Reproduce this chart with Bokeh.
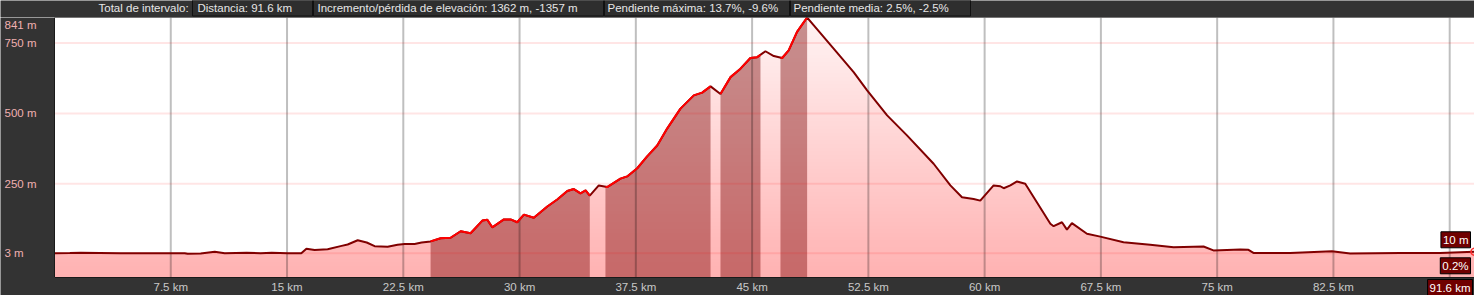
import numpy as np
from bokeh.plotting import figure
from bokeh.models import Range1d, Label
from bokeh.layouts import column
from bokeh.embed import file_html
from bokeh.resources import INLINE
from bokeh.core.properties import value

# ---------------- data ----------------
dist_km = [0, 0.99, 1.7, 2.92, 4.27, 6.21, 8.4, 8.59, 9.43, 10.34, 10.98, 12.4, 13.3, 14.01,
           15.04, 15.92, 16.25, 16.78, 17.62, 18.52, 18.91, 19.56, 20.14, 20.65, 21.49, 22.13,
           22.59, 23.23, 23.68, 24.26, 24.91, 25.55, 26.2, 26.84, 27.6, 27.92, 28.24, 28.99,
           29.42, 29.85, 30.28, 30.92, 31.79, 32.43, 33.08, 33.5, 33.93, 34.26, 34.53, 35.11,
           35.65, 36.51, 36.94, 37.59, 38.23, 38.88, 39.52, 40.38, 41.24, 41.78, 42.32, 42.96,
           43.61, 44.25, 44.89, 45.33, 45.86, 46.4, 46.94, 47.36, 47.9, 48.55, 48.98, 50.26,
           51.55, 52.42, 53.71, 54.99, 56.71, 57.79, 58.54, 59.29, 59.72, 60.58, 61.01, 61.23,
           61.66, 62.09, 62.62, 64.24, 64.45, 64.99, 65.31, 65.63, 66.6, 67.46, 68.96, 70.68,
           72.19, 74.12, 74.76, 76.49, 77.02, 77.34, 79.71, 82.4, 83.58, 86.8, 89.38, 91.6]
elev_m = [3, 4, 5, 4, 3, 3, 3, 1, 2, 8, 3, 5, 3, 5,
          3, 3, 19, 14, 17, 29, 34, 49, 41, 28, 26, 33,
          36, 36, 41, 45, 56, 58, 81, 74, 119, 122, 95, 123,
          123, 113, 140, 129, 169, 194, 224, 231, 216, 226, 208, 244,
          238, 268, 276, 305, 347, 386, 446, 517, 564, 574, 596, 569,
          629, 659, 697, 700, 721, 704, 697, 724, 790, 841, 813, 730,
          647, 582, 493, 422, 321, 244, 202, 196, 190, 244, 241, 234,
          244, 258, 250, 108, 99, 113, 87, 110, 72, 62, 42, 33,
          24, 27, 13, 16, 15, 4, 4, 10, 2, 4, 4, 8]

sel_start_km = [24.26, 35.54, 42.96, 46.83]
sel_end_km = [34.53, 42.32, 45.54, 48.55]

x_ticks = [7.5, 15, 22.5, 30, 37.5, 45, 52.5, 60, 67.5, 75, 82.5, 90]
x_tick_labels = ["7.5 km", "15 km", "22.5 km", "30 km", "37.5 km", "45 km", "52.5 km",
                 "60 km", "67.5 km", "75 km", "82.5 km", "90 km"]
y_ticks = [3, 250, 500, 750]
y_tick_labels = ["3 m", "250 m", "500 m", "750 m"]
y_top_label = "841 m"

header_texts = ["Total de intervalo:", "Distancia: 91.6 km",
                "Incremento/pérdida de elevación: 1362 m, -1357 m",
                "Pendiente máxima: 13.7%, -9.6%", "Pendiente media: 2.5%, -2.5%"]
cursor_elev_label = "10 m"
cursor_grade_label = "0.2%"
cursor_dist_label = "91.6 km"

TOTAL_KM = 91.6
Y_MIN = -83.4
Y_MAX = 841

FONT = "Liberation Sans"
FS = "11.5px"

# layout (pixels)
W = 1474
HEADER_H = 17
MAIN_H = 278
LEFT_PX = 54
BOTTOM_PX = 18
PLOT_W_PX = W - LEFT_PX
PLOT_H_PX = MAIN_H - BOTTOM_PX

# ---------------- header strip ----------------
header = figure(width=W, height=HEADER_H, x_range=Range1d(0, W), y_range=Range1d(0, HEADER_H),
                toolbar_location=None, output_backend="svg", min_border=0)
header.axis.visible = False
header.grid.visible = False
header.outline_line_color = None
header.background_fill_color = "#333333"
header.border_fill_color = "#333333"

box_left = [192, 313, 604, 790]
box_right = [312, 603, 789, 970]
header.quad(left=box_left, right=box_right, bottom=1.5, top=17.5,
            fill_color="#2e2e2e", line_color="#111111", line_width=1)
text_x = [98, 197, 317, 607, 793]
header.text(x=text_x, y=[9.3] * len(text_x), text=header_texts,
            text_font=value(FONT), text_font_size=FS, text_color="#e6e6e6",
            text_align="left", text_baseline="middle")

# ---------------- main plot ----------------
x_start = -TOTAL_KM * LEFT_PX / PLOT_W_PX
y_start = Y_MIN - (Y_MAX - Y_MIN) * BOTTOM_PX / PLOT_H_PX

p = figure(width=W, height=MAIN_H, x_range=Range1d(x_start, TOTAL_KM),
           y_range=Range1d(y_start, Y_MAX), toolbar_location=None, output_backend="svg",
           min_border=0)
p.axis.visible = False
p.grid.visible = False
p.outline_line_color = None
p.background_fill_color = "#333333"
p.border_fill_color = "#333333"

dist = np.array(dist_km, dtype=float)
elev = np.array(elev_m, dtype=float)

# plot area
p.quad(left=0, right=TOTAL_KM, bottom=Y_MIN, top=Y_MAX, fill_color="white", line_color=None)

# vertical gradient fill under the profile (bands, then white cover above the profile)
n_bands = 70
edges = np.linspace(Y_MIN, Y_MAX, n_bands + 1)
mids = (edges[:-1] + edges[1:]) / 2
frac = (mids - Y_MIN) / (Y_MAX - Y_MIN)
band_colors = ["#%02x%02x%02x" % (255, int(178 + 66 * f), int(178 + 66 * f)) for f in frac]
overlap = (edges[1] - edges[0]) * 0.6
tops = np.minimum(edges[1:] + overlap, Y_MAX)
p.quad(left=0, right=TOTAL_KM, bottom=edges[:-1], top=tops,
       fill_color=band_colors, line_color=None)
p.varea(x=dist, y1=elev, y2=Y_MAX, fill_color="white")

# selected-interval shading
seg_lines = []
for s, e in zip(sel_start_km, sel_end_km):
    inner = [d for d in dist_km if s < d < e]
    xs = np.array([s] + inner + [e])
    ys = np.interp(xs, dist, elev)
    p.varea(x=xs, y1=Y_MIN, y2=ys, fill_color=(120, 0, 0), fill_alpha=0.41)
    seg_lines.append((xs, ys))

# grid lines (above the fills)
p.segment(x0=x_ticks, y0=Y_MIN, x1=x_ticks, y1=Y_MAX, line_color="black",
          line_alpha=0.25, line_width=2)
p.segment(x0=0, y0=y_ticks, x1=TOTAL_KM, y1=y_ticks, line_color="#ff0000",
          line_alpha=0.1, line_width=2)

# profile line
p.line(dist, elev, line_color="#800000", line_width=2)
for xs, ys in seg_lines:
    p.line(xs, ys, line_color="#ff0000", line_width=2)
p.scatter(x=[dist[-1]], y=[elev[-1]], size=7, fill_color=None, line_color="#ff3030",
          line_width=1.5)

# plot-area border
p.quad(left=0, right=TOTAL_KM, bottom=Y_MIN, top=Y_MAX, fill_color=None,
       line_color="#1a1a1a", line_width=1)

# x tick labels (below plot area)
p.text(x=x_ticks, y=Y_MIN, text=x_tick_labels, y_offset=3, text_align="center",
       text_baseline="top", text_font=value(FONT), text_font_size=FS, text_color="#c8c8c8")

# y tick labels, left-aligned at the left edge
p.text(x=x_start, y=y_ticks, text=y_tick_labels, x_offset=4, text_align="left",
       text_baseline="middle", text_font=value(FONT), text_font_size=FS, text_color="#f0b0b0")
p.text(x=[x_start], y=[Y_MAX], text=[y_top_label], x_offset=4, y_offset=1, text_align="left",
       text_baseline="top", text_font=value(FONT), text_font_size=FS, text_color="#f0b0b0")

# cursor readouts at the right end
lab_kw = dict(text_align="right", text_baseline="middle", text_color="white",
              text_font=FONT, text_font_size=FS, background_fill_color="#700000",
              border_line_color="black", border_line_width=1, padding=2)
p.add_layout(Label(x=TOTAL_KM, y=elev[-1], x_offset=-4, y_offset=12,
                   text=cursor_elev_label, **lab_kw))
p.add_layout(Label(x=TOTAL_KM, y=elev[-1], x_offset=-4, y_offset=-14,
                   text=cursor_grade_label, **lab_kw))
p.add_layout(Label(x=TOTAL_KM, y=Y_MIN, x_offset=-2, y_offset=-10,
                   text=cursor_dist_label, **lab_kw))

layout = column(header, p, spacing=0)
open("out.html", "w").write(file_html(layout, INLINE))
